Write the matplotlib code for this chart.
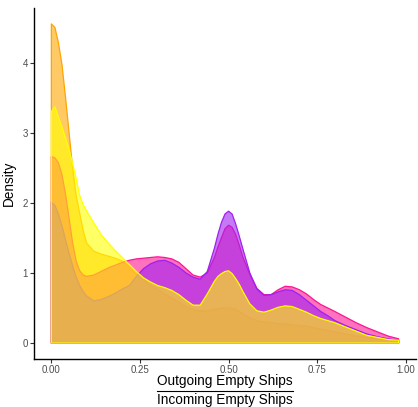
import numpy as np
import matplotlib
matplotlib.use("Agg")
import matplotlib.pyplot as plt
from matplotlib.colors import to_rgba
from matplotlib.lines import Line2D

# ---- data ----
x = [0.00, 0.01, 0.02, 0.03, 0.04, 0.05, 0.06, 0.07, 0.08, 0.09, 0.10,
     0.12, 0.14, 0.16, 0.18, 0.20, 0.22, 0.24, 0.26, 0.28, 0.30, 0.32,
     0.34, 0.36, 0.38, 0.40, 0.42, 0.44, 0.46, 0.47, 0.48, 0.49, 0.50,
     0.51, 0.52, 0.53, 0.54,
     0.56, 0.58, 0.60, 0.62, 0.64, 0.66, 0.68, 0.70, 0.72, 0.74, 0.76,
     0.78, 0.80, 0.83, 0.86, 0.89, 0.92, 0.95, 0.98]

orange_y = [4.55, 4.50, 4.28, 3.97, 3.50, 3.00, 2.50, 2.10, 1.85, 1.60, 1.42,
            1.31, 1.27, 1.24, 1.21, 1.17, 1.08, 0.98, 0.90, 0.82, 0.76, 0.70,
            0.64, 0.58, 0.52, 0.48, 0.46, 0.46, 0.48, 0.49, 0.50, 0.50, 0.50,
            0.49, 0.48, 0.45, 0.42,
            0.36, 0.32, 0.30, 0.29, 0.28, 0.27, 0.26, 0.25, 0.24, 0.22, 0.20,
            0.18, 0.16, 0.13, 0.10, 0.08, 0.06, 0.04, 0.03]

magenta_y = [2.66, 2.64, 2.57, 2.40, 2.12, 1.78, 1.43, 1.17, 1.03, 0.97, 0.95,
             0.97, 1.02, 1.07, 1.11, 1.15, 1.18, 1.20, 1.21, 1.22, 1.23, 1.22,
             1.20, 1.15, 1.06, 0.97, 0.94, 1.00, 1.22, 1.37, 1.50, 1.63, 1.68,
             1.65, 1.55, 1.40, 1.23,
             0.98, 0.78, 0.69, 0.69, 0.76, 0.81, 0.80, 0.76, 0.70, 0.62, 0.55,
             0.50, 0.45, 0.37, 0.29, 0.22, 0.16, 0.10, 0.06]

purple_y = [2.01, 1.96, 1.84, 1.67, 1.47, 1.28, 1.10, 0.94, 0.82, 0.73, 0.67,
            0.60, 0.62, 0.66, 0.71, 0.77, 0.82, 0.95, 1.06, 1.13, 1.17, 1.18,
            1.14, 1.08, 1.00, 0.94, 0.91, 1.02, 1.35, 1.55, 1.72, 1.84, 1.88,
            1.84, 1.70, 1.53, 1.35,
            1.00, 0.77, 0.68, 0.69, 0.73, 0.76, 0.75, 0.69, 0.61, 0.53, 0.45,
            0.39, 0.32, 0.25, 0.19, 0.13, 0.09, 0.06, 0.04]

yellow_y = [3.30, 3.37, 3.22, 3.08, 2.92, 2.76, 2.56, 2.35, 2.10, 1.97, 1.88,
            1.71, 1.55, 1.43, 1.32, 1.22, 1.12, 1.02, 0.93, 0.87, 0.82, 0.79,
            0.75, 0.69, 0.61, 0.54, 0.54, 0.70, 0.88, 0.95, 0.99, 1.02, 1.03,
            0.99, 0.92, 0.84, 0.74,
            0.56, 0.46, 0.44, 0.47, 0.51, 0.53, 0.52, 0.48, 0.44, 0.39, 0.35,
            0.32, 0.29, 0.23, 0.17, 0.11, 0.08, 0.05, 0.04]

series = [("orange", "#FFA500", orange_y),
          ("magenta", "#FF1493", magenta_y),
          ("purple", "#A020F0", purple_y),
          ("yellow", "#FFFF00", yellow_y)]

x_ticks = [0.0, 0.25, 0.5, 0.75, 1.0]
x_tick_labels = ["0.00", "0.25", "0.50", "0.75", "1.00"]
y_ticks = [0, 1, 2, 3, 4]

plt.rcParams['font.family'] = ['Liberation Sans', 'DejaVu Sans']

W, H = 418, 407
fig = plt.figure(figsize=(W / 100, H / 100), dpi=100)
ax = fig.add_axes([34 / W, 1 - 359 / H, (416 - 34) / W, (359 - 8) / H])

xa = np.array(x)
for name, col, ys in series:
    ya = np.array(ys)
    px = np.concatenate([[xa[0]], xa, [xa[-1]]])
    py = np.concatenate([[0], ya, [0]])
    ax.fill(px, py, facecolor=to_rgba(col, 0.6), edgecolor=col,
            linewidth=0.9, joinstyle='round')

xmax = x[-1]
ax.set_xlim(-0.05 * xmax, xmax * 1.05)
ymax = max(max(orange_y), max(magenta_y), max(purple_y), max(yellow_y))
ax.set_ylim(-0.05 * ymax, ymax * 1.05)

ax.set_xticks(x_ticks)
ax.set_xticklabels(x_tick_labels)
ax.set_yticks(y_ticks)
ax.tick_params(axis='both', labelsize=7, colors='#333333', labelcolor='#4D4D4D',
               length=3, width=0.8, pad=1.5)
for s in ['top', 'right']:
    ax.spines[s].set_visible(False)
for s in ['left', 'bottom']:
    ax.spines[s].set_linewidth(1.0)
    ax.spines[s].set_color('black')

ax.set_ylabel("Density", fontsize=9.8)
ax.yaxis.set_label_coords((16 - 34) / (416 - 34), 0.5)

# fraction-style x label
fig.text(225 / W, 1 - 385 / H, "Outgoing Empty Ships", ha='center', va='baseline',
         fontsize=9.8)
fig.text(225 / W, 1 - 404 / H, "Incoming Empty Ships", ha='center', va='baseline',
         fontsize=9.8)
fig.add_artist(Line2D([157 / W, 293 / W], [1 - 391 / H, 1 - 391 / H],
                      color='black', linewidth=0.8, transform=fig.transFigure))

fig.savefig("out.png", dpi=100, facecolor='white')
